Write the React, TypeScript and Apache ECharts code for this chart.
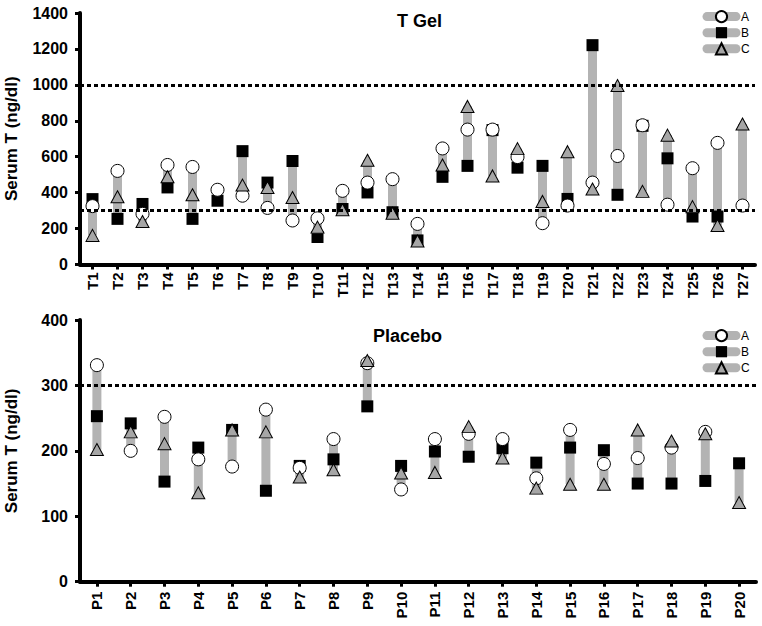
import React, { useEffect, useRef } from 'react';
import * as echarts from 'echarts';

const FONT = 'Arial, "Liberation Sans", Helvetica, sans-serif';

// ---- T Gel panel ----
const tCats = ['T1', 'T2', 'T3', 'T4', 'T5', 'T6', 'T7', 'T8', 'T9', 'T10', 'T11', 'T12', 'T13', 'T14', 'T15', 'T16', 'T17', 'T18', 'T19', 'T20', 'T21', 'T22', 'T23', 'T24', 'T25', 'T26', 'T27'];
const tA = [325, 521, 282, 554, 543, 416, 383, 315, 245, 257, 410, 456, 475, 226, 646, 751, 751, 598, 230, 328, 456, 604, 775, 333, 536, 677, 328];
const tB = [364, 254, 337, 429, 254, 355, 631, 456, 576, 153, 309, 401, 291, 134, 488, 549, 748, 539, 549, 365, 1221, 388, 772, 591, 267, 267, null];
const tC = [162, 377, 239, 488, 388, null, 442, 429, 373, 208, 305, 580, 285, 131, 554, 880, 493, 645, 351, 628, 420, 996, 407, 720, 322, 217, 782];
const tTicks = [0, 200, 400, 600, 800, 1000, 1200, 1400];
const tRefLines = [300, 1000];

// ---- Placebo panel ----
const pCats = ['P1', 'P2', 'P3', 'P4', 'P5', 'P6', 'P7', 'P8', 'P9', 'P10', 'P11', 'P12', 'P13', 'P14', 'P15', 'P16', 'P17', 'P18', 'P19', 'P20'];
const pA = [331, 200, 252, 187, 176, 263, 174, 218, 334, 141, 218, 226, 218, 158, 232, 180, 189, 205, 229, null];
const pB = [253, 242, 153, 205, 232, 139, 177, 187, 268, 177, 199, 191, 204, 182, 205, 201, 150, 150, 154, 181];
const pC = [202, 229, 211, 136, 232, 229, 160, 171, 338, 166, 167, 237, 189, 143, 149, 149, 232, 215, 226, 121];
const pTicks = [0, 100, 200, 300, 400];
const pRefLines = [300];

const seriesNames = ['A', 'B', 'C'];

function ranges(a: (number | null)[], b: (number | null)[], c: (number | null)[]) {
  const lo: number[] = [];
  const span: number[] = [];
  for (let i = 0; i < a.length; i++) {
    const vals = [a[i], b[i], c[i]].filter((v) => v !== null) as number[];
    const mn = Math.min(...vals);
    const mx = Math.max(...vals);
    lo.push(mn);
    span.push(mx - mn);
  }
  return { lo, span };
}

function panelSeries(idx: number, a: any[], b: any[], c: any[], refs: number[]) {
  const { lo, span } = ranges(a, b, c);
  const stack = 'rng' + idx;
  const common = {
    type: 'line',
    xAxisIndex: idx,
    yAxisIndex: idx,
    showAllSymbol: true,
    lineStyle: { width: 0 },
    emphasis: { disabled: true },
    silent: true,
  };
  return [
    {
      type: 'bar',
      name: 'base' + idx,
      xAxisIndex: idx,
      yAxisIndex: idx,
      stack,
      data: lo,
      barWidth: 9,
      itemStyle: { color: 'rgba(0,0,0,0)' },
      silent: true,
      emphasis: { disabled: true },
    },
    {
      type: 'bar',
      name: 'range' + idx,
      xAxisIndex: idx,
      yAxisIndex: idx,
      stack,
      data: span,
      barWidth: 9,
      itemStyle: { color: '#b3b3b3' },
      silent: true,
      emphasis: { disabled: true },
      markLine: {
        silent: true,
        symbol: ['none', 'none'],
        label: { show: false },
        lineStyle: { color: '#000', type: [4, 3], width: 3 },
        data: refs.map((v) => ({ yAxis: v })),
      },
    },
    {
      ...common,
      name: 'B',
      data: b,
      symbol: 'rect',
      symbolSize: 12,
      itemStyle: { color: '#000', borderColor: '#000', borderWidth: 0 },
    },
    {
      ...common,
      name: 'A',
      data: a,
      symbol: 'circle',
      symbolSize: 13,
      itemStyle: { color: '#fff', borderColor: '#000', borderWidth: 1 },
    },
    {
      ...common,
      name: 'C',
      data: c,
      symbol: 'triangle',
      symbolSize: [13, 12],
      itemStyle: { color: '#a6a6a6', borderColor: '#000', borderWidth: 1 },
    },
  ];
}

function xAxis(idx: number, cats: string[], margin: number) {
  return {
    type: 'category',
    gridIndex: idx,
    data: cats,
    boundaryGap: true,
    axisLine: { show: true, lineStyle: { color: '#000', width: 4 } },
    axisTick: { show: true, alignWithLabel: true, length: 5, lineStyle: { color: '#000', width: 3 } },
    axisLabel: {
      interval: 0,
      rotate: 90,
      margin,
      color: '#000',
      fontSize: 15,
      fontWeight: 'bold',
      fontFamily: FONT,
    },
    splitLine: { show: false },
  };
}

function yAxis(idx: number, ticks: number[]) {
  return {
    type: 'value',
    gridIndex: idx,
    min: ticks[0],
    max: ticks[ticks.length - 1],
    interval: ticks[1] - ticks[0],
    name: 'Serum T (ng/dl)',
    nameLocation: 'middle',
    nameGap: 60,
    nameTextStyle: { color: '#000', fontSize: 17, fontWeight: 'bold', fontFamily: FONT },
    axisLine: { show: true, lineStyle: { color: '#000', width: 4 } },
    axisTick: { show: true, length: 5, lineStyle: { color: '#000', width: 3 } },
    axisLabel: {
      margin: 12,
      color: '#000',
      fontSize: 16,
      fontWeight: 'bold',
      fontFamily: FONT,
      formatter: (v: number) => String(v),
    },
    splitLine: { show: false },
  };
}

function legend(top: number) {
  return {
    data: seriesNames,
    orient: 'vertical',
    left: 697.5,
    top,
    itemWidth: 29,
    itemHeight: 14,
    itemGap: 3.5,
    selectedMode: false,
    textStyle: { color: '#000', fontSize: 12, fontFamily: FONT },
    lineStyle: { color: '#b3b3b3', width: 9, cap: 'round', opacity: 1 },
  };
}

function buildOption() {
  return {
    animation: false,
    backgroundColor: '#fff',
    textStyle: { fontFamily: FONT },
    title: [
      { text: 'T Gel', left: 392, top: 7, textStyle: { color: '#000', fontSize: 18, fontWeight: 'bold', fontFamily: FONT } },
      { text: 'Placebo', left: 368, top: 322, textStyle: { color: '#000', fontSize: 18, fontWeight: 'bold', fontFamily: FONT } },
    ],
    legend: [legend(5), legend(324)],
    grid: [
      { left: 80, top: 13, width: 675, height: 251.5, containLabel: false, outerBoundsMode: 'none' },
      { left: 80, top: 320, width: 676, height: 261.7, containLabel: false, outerBoundsMode: 'none' },
    ],
    xAxis: [xAxis(0, tCats, 8), xAxis(1, pCats, 10)],
    yAxis: [yAxis(0, tTicks), yAxis(1, pTicks)],
    series: [...panelSeries(0, tA, tB, tC, tRefLines), ...panelSeries(1, pA, pB, pC, pRefLines)],
  };
}

export default function App() {
  const ref = useRef<HTMLDivElement>(null);
  useEffect(() => {
    const chart = echarts.init(ref.current!, null, { renderer: 'svg' });
    chart.setOption(buildOption() as any);
    return () => chart.dispose();
  }, []);
  return (
    <div
      ref={ref}
      style={{ position: 'fixed', left: 0, top: 0, width: 762, height: 626, background: '#fff' }}
    />
  );
}
